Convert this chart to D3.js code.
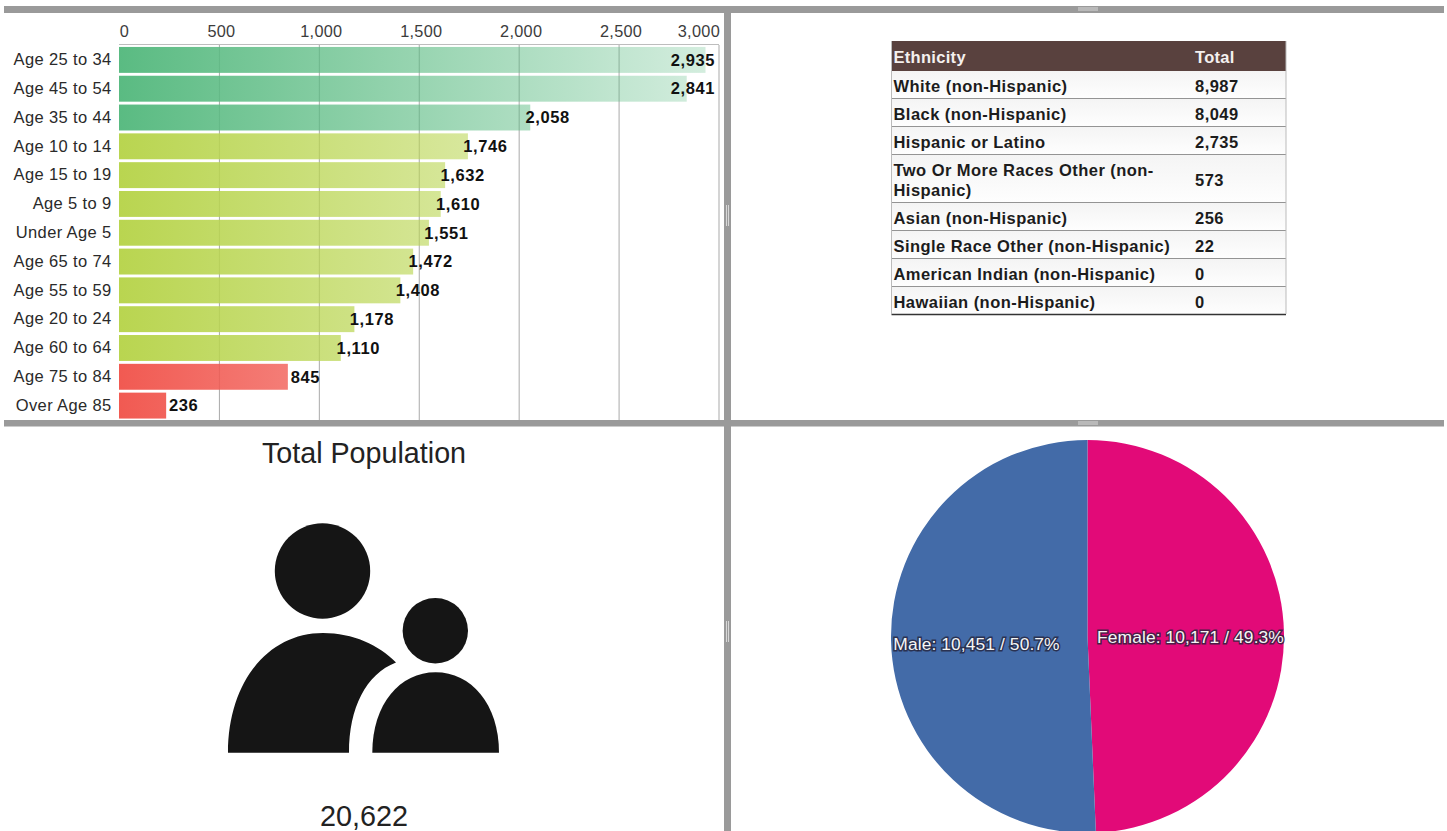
<!DOCTYPE html>
<html>
<head>
<meta charset="utf-8">
<script src="https://cdnjs.cloudflare.com/ajax/libs/d3/7.8.5/d3.min.js"></script>
<style>
html,body{margin:0;padding:0;background:#fff;overflow:hidden}
svg{display:block;font-family:"Liberation Sans",Arial,sans-serif}
</style>
</head>
<body>
<svg id="c" width="1447" height="831"></svg>
<script>
const ageGroups = ["Age 25 to 34","Age 45 to 54","Age 35 to 44","Age 10 to 14","Age 15 to 19","Age 5 to 9","Under Age 5","Age 65 to 74","Age 55 to 59","Age 20 to 24","Age 60 to 64","Age 75 to 84","Over Age 85"];
const ageValues = [2935,2841,2058,1746,1632,1610,1551,1472,1408,1178,1110,845,236];
const ageClasses = ["g","g","g","y","y","y","y","y","y","y","y","r","r"];
const axisTicks = [0,500,1000,1500,2000,2500,3000];
const classColors = {g:"#5abb82",y:"#b9d550",r:"#f15a52"};
const ethnicities = ["White (non-Hispanic)","Black (non-Hispanic)","Hispanic or Latino","Two Or More Races Other (non-|Hispanic)","Asian (non-Hispanic)","Single Race Other (non-Hispanic)","American Indian (non-Hispanic)","Hawaiian (non-Hispanic)"];
const ethnicityTotals = [8987,8049,2735,573,256,22,0,0];
const genderNames = ["Female","Male"];
const genderValues = [10171,10451];
const genderPcts = ["49.3%","50.7%"];
const genderColors = ["#e20a78","#436ba8"];
const totalPopulation = 20622;

const fmt = d3.format(",");
const svg = d3.select("#c");
const defs = svg.append("defs");

/* ---------- bar chart ---------- */
const x = d3.scaleLinear().domain([0,3000]).range([119,718.5]);
const y = d3.scaleBand().domain(ageGroups).range([45.5,420]).paddingInner(0.1).paddingOuter(0.05);

Object.entries(classColors).forEach(([k,c])=>{
  const g = defs.append("linearGradient").attr("id","grad-"+k)
    .attr("gradientUnits","userSpaceOnUse")
    .attr("x1",x(0)).attr("x2",x(3000)).attr("y1",0).attr("y2",0);
  g.append("stop").attr("offset",0).attr("stop-color",c).attr("stop-opacity",1);
  g.append("stop").attr("offset",1).attr("stop-color",c).attr("stop-opacity",0.25);
});

const grid = svg.append("g");
grid.selectAll("line").data(axisTicks.slice(1)).join("line")
  .attr("x1",d=>x(d)+.5).attr("x2",d=>x(d)+.5).attr("y1",45).attr("y2",420)
  .attr("stroke","#a9a9a9").attr("stroke-width",1);
svg.append("line").attr("x1",119).attr("x2",719).attr("y1",44.5).attr("y2",44.5).attr("stroke","#bdbdbd");

const topAxis = svg.append("g").attr("transform","translate(0,40)")
  .call(d3.axisTop(x).tickValues(axisTicks).tickFormat(fmt).tickSize(0).tickPadding(0));
topAxis.select(".domain").remove();
topAxis.selectAll("text").attr("font-size",16.3).attr("letter-spacing",0.3).attr("fill","#3c3c3c")
  .attr("font-family",null).attr("text-anchor",d=>d===3000?"end":"middle")
  .attr("x",d=>d===3000?1:d===0?5:2).attr("y",-3);

const leftAxis = svg.append("g").attr("transform","translate(111.5,0)")
  .call(d3.axisLeft(y).tickSize(0).tickPadding(0));
leftAxis.select(".domain").remove();
leftAxis.selectAll("text").attr("font-size",16.5).attr("letter-spacing",0.36).attr("fill","#2a2a2a").attr("font-family",null);

svg.append("g").selectAll("rect").data(ageValues).join("rect")
  .attr("x",x(0))
  .attr("y",(d,i)=>y(ageGroups[i]))
  .attr("width",d=>x(d)-x(0))
  .attr("height",y.bandwidth())
  .attr("fill",(d,i)=>`url(#grad-${ageClasses[i]})`);

svg.append("g").selectAll("text").data(ageValues).join("text")
  .attr("x",d=>Math.min(x(d)+17.5,693))
  .attr("y",(d,i)=>y(ageGroups[i])+y.bandwidth()/2)
  .attr("dy","0.35em").attr("text-anchor","middle")
  .attr("font-size",16.5).attr("letter-spacing",0.6).attr("font-weight","bold").attr("fill","#111")
  .text(fmt);

/* ---------- table ---------- */
const tLeft=891.5,tRight=1286,col2=1195,col1=893.5;
const rowEdges=[41,71,98.5,126.5,154.5,202.5,230.5,258.5,286.5,314.5];
const rowGrad = defs.append("linearGradient").attr("id","rowg").attr("x1",0).attr("x2",0).attr("y1",0).attr("y2",1);
rowGrad.append("stop").attr("offset",0).attr("stop-color","#f4f4f4");
rowGrad.append("stop").attr("offset",1).attr("stop-color","#fefefe");
const tbl = svg.append("g");
tbl.append("rect").attr("x",tLeft).attr("y",rowEdges[0]).attr("width",tRight-tLeft).attr("height",rowEdges[1]-rowEdges[0]).attr("fill","#59413e");
tbl.append("text").attr("x",col1).attr("y",63).attr("font-size",16.5).attr("letter-spacing",0.3).attr("font-weight","bold").attr("fill","#f4f0ee").text("Ethnicity");
tbl.append("text").attr("x",col2).attr("y",63).attr("font-size",16.5).attr("letter-spacing",0.3).attr("font-weight","bold").attr("fill","#f4f0ee").text("Total");
const rows = tbl.selectAll("g.row").data(ethnicities).join("g").attr("class","row");
rows.append("rect").attr("x",tLeft).attr("width",tRight-tLeft)
  .attr("y",(d,i)=>rowEdges[i+1]).attr("height",(d,i)=>rowEdges[i+2]-rowEdges[i+1]).attr("fill","url(#rowg)");
rows.append("line").attr("x1",tLeft).attr("x2",tRight)
  .attr("y1",(d,i)=>rowEdges[i+2]).attr("y2",(d,i)=>rowEdges[i+2]).attr("stroke","#333").attr("stroke-width",(d,i)=>i===7?1.6:1);
rows.each(function(d,i){
  const mid=(rowEdges[i+1]+rowEdges[i+2])/2+1.5, parts=d.split("|"), g=d3.select(this);
  parts.forEach((p,k)=>{
    g.append("text").attr("x",col1).attr("y",mid+(k-(parts.length-1)/2)*20).attr("dy","0.36em")
      .attr("font-size",16.5).attr("letter-spacing",0.45).attr("font-weight","bold").attr("fill","#1c1c1c").text(p);
  });
  g.append("text").attr("x",col2).attr("y",mid).attr("dy","0.36em")
    .attr("font-size",16.5).attr("letter-spacing",0.45).attr("font-weight","bold").attr("fill","#1c1c1c").text(fmt(ethnicityTotals[i]));
});
tbl.append("line").attr("x1",tLeft).attr("x2",tLeft).attr("y1",41).attr("y2",314).attr("stroke","#bbb");
tbl.append("line").attr("x1",tRight).attr("x2",tRight).attr("y1",41).attr("y2",314).attr("stroke","#bbb");

/* ---------- total population ---------- */
svg.append("text").attr("x",364).attr("y",463).attr("text-anchor","middle")
  .attr("font-size",28.7).attr("fill","#222").text("Total Population");
const icon = svg.append("g").attr("fill","#151515");
icon.append("circle").attr("cx",322.5).attr("cy",571).attr("r",47.7);
icon.append("circle").attr("cx",435.3).attr("cy",630.7).attr("r",32.7);
icon.append("path").attr("d","M228,752.7C228,682 268,633 323,633C353,633 379,645 396,662.5C366,674 349,708 349,752.7Z");
icon.append("path").attr("d","M372.3,752.7C372.3,704 400,672.3 435.6,672.3C471,672.3 499,704 499,752.7Z");
svg.append("text").attr("x",364).attr("y",826).attr("text-anchor","middle")
  .attr("font-size",28.8).attr("fill","#222").text(fmt(totalPopulation));

/* ---------- pie ---------- */
const pieG = svg.append("g").attr("transform","translate(1087.5,636.5)");
const arcs = d3.pie().sort(null)(genderValues);
const arc = d3.arc().innerRadius(0).outerRadius(196.5);
pieG.selectAll("path").data(arcs).join("path").attr("d",arc).attr("fill",(d,i)=>genderColors[i]);
const labelX=[1190.5,976.5], labelY=[642.5,650];
genderNames.forEach((n,i)=>{
  const t=`${n}: ${fmt(genderValues[i])} / ${genderPcts[i]}`;
  svg.append("text").attr("x",labelX[i]).attr("y",labelY[i]).attr("text-anchor","middle")
    .attr("font-size",17.4).attr("letter-spacing",0.1).attr("fill","#f6f6f6")
    .attr("stroke","#23233a").attr("stroke-opacity",.8).attr("stroke-width",3).attr("paint-order","stroke").text(t);
});

/* ---------- dividers ---------- */
const dv = svg.append("g").attr("fill","#9a9a9a");
dv.append("rect").attr("x",4).attr("y",6).attr("width",1440).attr("height",7);
dv.append("rect").attr("x",4).attr("y",420).attr("width",1440).attr("height",6.5);
dv.append("rect").attr("x",724).attr("y",6).attr("width",7).attr("height",825);
const gr = svg.append("g").attr("stroke","#d8d8d8").attr("stroke-width",1);
[[1078,1098,9],[1078,1098,423]].forEach(([a,b,c])=>{
  gr.append("line").attr("x1",a).attr("x2",b).attr("y1",c-1).attr("y2",c-1);
  gr.append("line").attr("x1",a).attr("x2",b).attr("y1",c+1).attr("y2",c+1);
});
[[205,226],[621,642]].forEach(([a,b])=>{
  gr.append("line").attr("x1",726.5).attr("x2",726.5).attr("y1",a).attr("y2",b);
  gr.append("line").attr("x1",728.5).attr("x2",728.5).attr("y1",a).attr("y2",b);
});
</script>
</body>
</html>
